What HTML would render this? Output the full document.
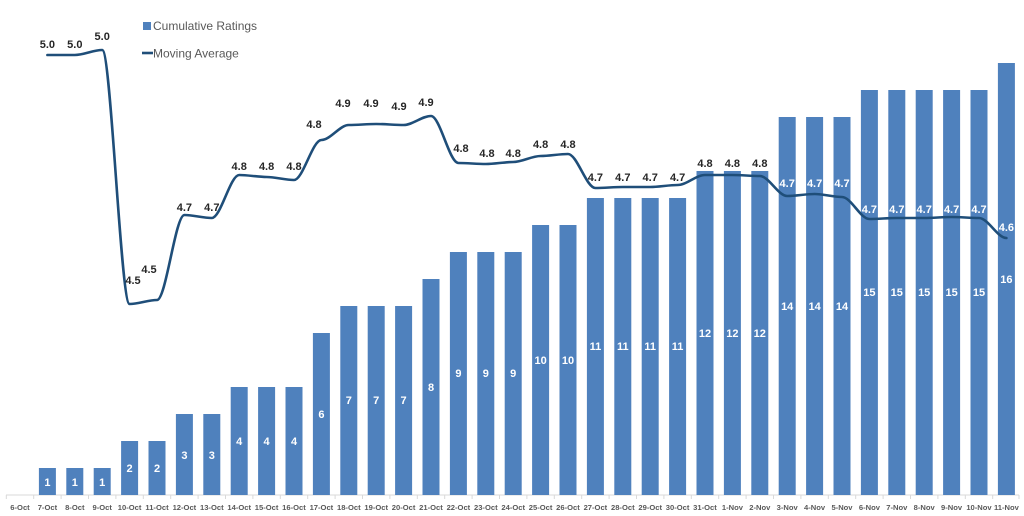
<!DOCTYPE html>
<html><head><meta charset="utf-8"><style>
html,body{margin:0;padding:0;background:#fff}
svg{display:block;font-family:"Liberation Sans",sans-serif}
.b{fill:#4f81bd}
.v{fill:#fff;font-weight:bold;font-size:11px;text-anchor:middle}
.l{fill:#262626;font-weight:bold;font-size:11px;text-anchor:middle}
.w{fill:#fff;font-weight:bold;font-size:11px;text-anchor:middle}
.x{fill:#595959;font-weight:bold;font-size:7.6px;text-anchor:middle}
</style></head><body>
<svg width="1024" height="516" viewBox="0 0 1024 516">
<line x1="6" y1="495" x2="1019" y2="495" stroke="#d9d9d9"/>
<g stroke="#d9d9d9">
<line x1="6.3" y1="495" x2="6.3" y2="499"/><line x1="33.7" y1="495" x2="33.7" y2="499"/><line x1="61.1" y1="495" x2="61.1" y2="499"/><line x1="88.5" y1="495" x2="88.5" y2="499"/><line x1="115.9" y1="495" x2="115.9" y2="499"/><line x1="143.3" y1="495" x2="143.3" y2="499"/><line x1="170.7" y1="495" x2="170.7" y2="499"/><line x1="198.1" y1="495" x2="198.1" y2="499"/><line x1="225.5" y1="495" x2="225.5" y2="499"/><line x1="252.9" y1="495" x2="252.9" y2="499"/><line x1="280.3" y1="495" x2="280.3" y2="499"/><line x1="307.7" y1="495" x2="307.7" y2="499"/><line x1="335.1" y1="495" x2="335.1" y2="499"/><line x1="362.5" y1="495" x2="362.5" y2="499"/><line x1="389.9" y1="495" x2="389.9" y2="499"/><line x1="417.3" y1="495" x2="417.3" y2="499"/><line x1="444.7" y1="495" x2="444.7" y2="499"/><line x1="472.1" y1="495" x2="472.1" y2="499"/><line x1="499.5" y1="495" x2="499.5" y2="499"/><line x1="526.9" y1="495" x2="526.9" y2="499"/><line x1="554.3" y1="495" x2="554.3" y2="499"/><line x1="581.7" y1="495" x2="581.7" y2="499"/><line x1="609.1" y1="495" x2="609.1" y2="499"/><line x1="636.5" y1="495" x2="636.5" y2="499"/><line x1="663.9" y1="495" x2="663.9" y2="499"/><line x1="691.3" y1="495" x2="691.3" y2="499"/><line x1="718.7" y1="495" x2="718.7" y2="499"/><line x1="746.1" y1="495" x2="746.1" y2="499"/><line x1="773.5" y1="495" x2="773.5" y2="499"/><line x1="800.9" y1="495" x2="800.9" y2="499"/><line x1="828.3" y1="495" x2="828.3" y2="499"/><line x1="855.7" y1="495" x2="855.7" y2="499"/><line x1="883.1" y1="495" x2="883.1" y2="499"/><line x1="910.5" y1="495" x2="910.5" y2="499"/><line x1="937.9" y1="495" x2="937.9" y2="499"/><line x1="965.3" y1="495" x2="965.3" y2="499"/><line x1="992.7" y1="495" x2="992.7" y2="499"/><line x1="1019" y1="495" x2="1019" y2="499"/>
</g>
<g class="b">
<rect x="38.9" y="468" width="17" height="27"/>
<rect x="66.3" y="468" width="17" height="27"/>
<rect x="93.7" y="468" width="17" height="27"/>
<rect x="121.1" y="441" width="17" height="54"/>
<rect x="148.5" y="441" width="17" height="54"/>
<rect x="175.9" y="414" width="17" height="81"/>
<rect x="203.3" y="414" width="17" height="81"/>
<rect x="230.7" y="387" width="17" height="108"/>
<rect x="258.1" y="387" width="17" height="108"/>
<rect x="285.5" y="387" width="17" height="108"/>
<rect x="312.9" y="333" width="17" height="162"/>
<rect x="340.3" y="306" width="17" height="189"/>
<rect x="367.7" y="306" width="17" height="189"/>
<rect x="395.1" y="306" width="17" height="189"/>
<rect x="422.5" y="279" width="17" height="216"/>
<rect x="449.9" y="252" width="17" height="243"/>
<rect x="477.3" y="252" width="17" height="243"/>
<rect x="504.7" y="252" width="17" height="243"/>
<rect x="532.1" y="225" width="17" height="270"/>
<rect x="559.5" y="225" width="17" height="270"/>
<rect x="586.9" y="198" width="17" height="297"/>
<rect x="614.3" y="198" width="17" height="297"/>
<rect x="641.7" y="198" width="17" height="297"/>
<rect x="669.1" y="198" width="17" height="297"/>
<rect x="696.5" y="171" width="17" height="324"/>
<rect x="723.9" y="171" width="17" height="324"/>
<rect x="751.3" y="171" width="17" height="324"/>
<rect x="778.7" y="117" width="17" height="378"/>
<rect x="806.1" y="117" width="17" height="378"/>
<rect x="833.5" y="117" width="17" height="378"/>
<rect x="860.9" y="90" width="17" height="405"/>
<rect x="888.3" y="90" width="17" height="405"/>
<rect x="915.7" y="90" width="17" height="405"/>
<rect x="943.1" y="90" width="17" height="405"/>
<rect x="970.5" y="90" width="17" height="405"/>
<rect x="997.9" y="63" width="17" height="432"/>
</g>
<g class="v">
<text x="47.4" y="486">1</text><text x="74.8" y="486">1</text><text x="102.2" y="486">1</text>
<text x="129.6" y="472">2</text><text x="157" y="472">2</text>
<text x="184.4" y="459">3</text><text x="211.8" y="459">3</text>
<text x="239.2" y="445">4</text><text x="266.6" y="445">4</text><text x="294" y="445">4</text>
<text x="321.4" y="418">6</text>
<text x="348.8" y="404">7</text><text x="376.2" y="404">7</text><text x="403.6" y="404">7</text>
<text x="431" y="391">8</text>
<text x="458.4" y="377">9</text><text x="485.8" y="377">9</text><text x="513.2" y="377">9</text>
<text x="540.6" y="364">10</text><text x="568" y="364">10</text>
<text x="595.4" y="350">11</text><text x="622.8" y="350">11</text><text x="650.2" y="350">11</text><text x="677.6" y="350">11</text>
<text x="705" y="337">12</text><text x="732.4" y="337">12</text><text x="759.8" y="337">12</text>
<text x="787.2" y="310">14</text><text x="814.6" y="310">14</text><text x="842" y="310">14</text>
<text x="869.4" y="296">15</text><text x="896.8" y="296">15</text><text x="924.2" y="296">15</text><text x="951.6" y="296">15</text><text x="979" y="296">15</text>
<text x="1006.4" y="283">16</text>
</g>
<path fill="none" stroke="#1f4e79" stroke-width="2.6" stroke-linejoin="round" stroke-linecap="round" d="M47.4 55 C56.4 55,65.8 55,74.8 55 S93.2 50,102.2 50 S120.6 304,129.6 304 S148 300,157 300 S175.4 215,184.4 215 S202.8 218,211.8 218 S230.2 175,239.2 175 S257.6 177,266.6 177 S285 180,294 180 S312.4 140,321.4 140 S339.8 125,348.8 125 S367.2 124,376.2 124 S394.6 125,403.6 125 S422 116,431 116 S449.4 163,458.4 163 S476.8 164,485.8 164 S504.2 162,513.2 162 S531.6 156,540.6 156 S559 154,568 154 S586.4 188,595.4 188 S613.8 187,622.8 187 S641.2 187,650.2 187 S668.6 185,677.6 185 S696 175,705 175 S723.4 175,732.4 175 S750.8 176,759.8 176 S778.2 196,787.2 196 S805.6 194,814.6 194 S833 197,842 197 S860.4 219,869.4 219 S887.8 218,896.8 218 S915.2 218,924.2 218 S942.6 217,951.6 217 S970 218,979 218 S997.4 238,1006.4 238"/>
<g class="l">
<text x="47.4" y="48">5.0</text><text x="74.8" y="48">5.0</text><text x="102.2" y="40">5.0</text>
<text x="133" y="284">4.5</text><text x="149" y="273">4.5</text>
<text x="184.4" y="211">4.7</text><text x="211.8" y="211">4.7</text>
<text x="239.2" y="170">4.8</text><text x="266.6" y="170">4.8</text><text x="294" y="170">4.8</text>
<text x="314" y="128">4.8</text>
<text x="343" y="107">4.9</text><text x="371" y="107">4.9</text><text x="399" y="110">4.9</text><text x="426" y="106">4.9</text>
<text x="461" y="152">4.8</text><text x="487" y="157">4.8</text><text x="513.2" y="157">4.8</text><text x="540.6" y="148">4.8</text><text x="568" y="148">4.8</text>
<text x="595.4" y="181">4.7</text><text x="622.8" y="181">4.7</text><text x="650.2" y="181">4.7</text><text x="677.6" y="181">4.7</text>
<text x="705" y="167">4.8</text><text x="732.4" y="167">4.8</text><text x="759.8" y="167">4.8</text>
</g>
<g class="w">
<text x="787.2" y="187">4.7</text><text x="814.6" y="187">4.7</text><text x="842" y="187">4.7</text>
<text x="869.4" y="213">4.7</text><text x="896.8" y="213">4.7</text><text x="924.2" y="213">4.7</text><text x="951.6" y="213">4.7</text><text x="979" y="213">4.7</text>
<text x="1006.4" y="231">4.6</text>
</g>
<g class="x">
<text x="20" y="510">6-Oct</text><text x="47.4" y="510">7-Oct</text><text x="74.8" y="510">8-Oct</text><text x="102.2" y="510">9-Oct</text><text x="129.6" y="510">10-Oct</text><text x="157" y="510">11-Oct</text><text x="184.4" y="510">12-Oct</text><text x="211.8" y="510">13-Oct</text><text x="239.2" y="510">14-Oct</text><text x="266.6" y="510">15-Oct</text><text x="294" y="510">16-Oct</text><text x="321.4" y="510">17-Oct</text><text x="348.8" y="510">18-Oct</text><text x="376.2" y="510">19-Oct</text><text x="403.6" y="510">20-Oct</text><text x="431" y="510">21-Oct</text><text x="458.4" y="510">22-Oct</text><text x="485.8" y="510">23-Oct</text><text x="513.2" y="510">24-Oct</text><text x="540.6" y="510">25-Oct</text><text x="568" y="510">26-Oct</text><text x="595.4" y="510">27-Oct</text><text x="622.8" y="510">28-Oct</text><text x="650.2" y="510">29-Oct</text><text x="677.6" y="510">30-Oct</text><text x="705" y="510">31-Oct</text><text x="732.4" y="510">1-Nov</text><text x="759.8" y="510">2-Nov</text><text x="787.2" y="510">3-Nov</text><text x="814.6" y="510">4-Nov</text><text x="842" y="510">5-Nov</text><text x="869.4" y="510">6-Nov</text><text x="896.8" y="510">7-Nov</text><text x="924.2" y="510">8-Nov</text><text x="951.6" y="510">9-Nov</text><text x="979" y="510">10-Nov</text><text x="1006.4" y="510">11-Nov</text>
</g>
<rect x="143" y="22" width="8" height="8" fill="#4f81bd"/>
<text x="153" y="30" font-size="12" fill="#595959">Cumulative Ratings</text>
<line x1="142" y1="53" x2="153" y2="53" stroke="#1f4e79" stroke-width="2.6"/>
<text x="153" y="57.5" font-size="12" fill="#595959">Moving Average</text>
</svg>
</body></html>
